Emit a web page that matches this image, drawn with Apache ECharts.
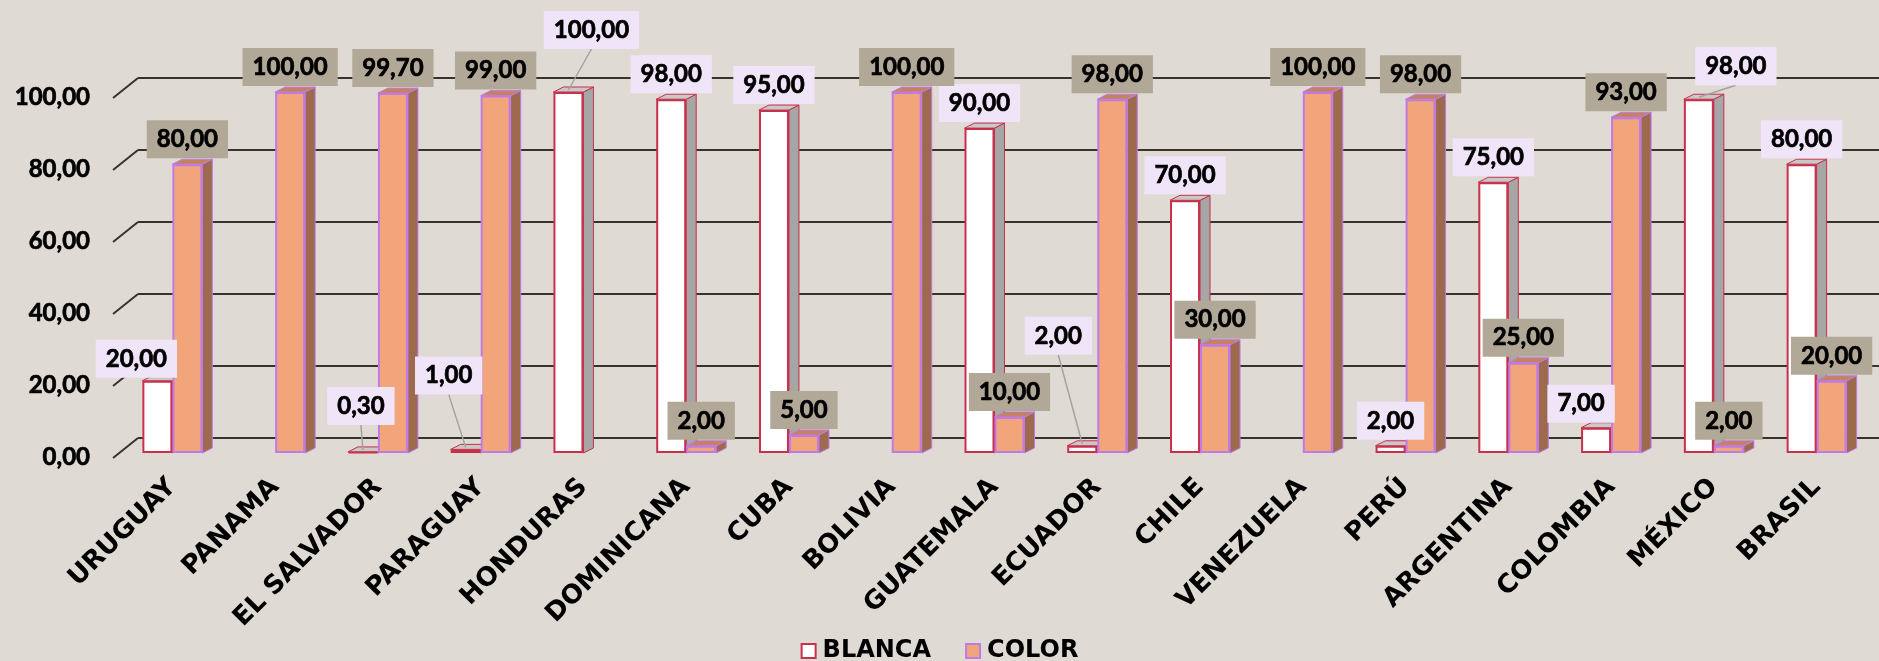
<!DOCTYPE html>
<html><head><meta charset="utf-8">
<script src="https://cdn.jsdelivr.net/npm/echarts@6/dist/echarts.min.js"></script>
<style>html,body{margin:0;padding:0;background:#dfdbd4}#c{width:1879px;height:661px}</style>
</head><body><div id="c"></div>
<script>
const categories = ['URUGUAY','PANAMA','EL SALVADOR','PARAGUAY','HONDURAS','DOMINICANA','CUBA','BOLIVIA','GUATEMALA','ECUADOR','CHILE','VENEZUELA','PERÚ','ARGENTINA','COLOMBIA','MÉXICO','BRASIL'];
const blanca = [20, null, 0.3, 1, 100, 98, 95, null, 90, 2, 70, null, 2, 75, 7, 98, 80];
const color  = [80, 100, 99.7, 99, null, 2, 5, 100, 10, 98, 30, 100, 98, 25, 93, 2, 20];
const yTicks = [0, 20, 40, 60, 80, 100];

// layout: nudges (px) for BLANCA labels moved off their default spot [dx, dy, leaderLine]
const blancaLabelNudge = {0:[-21,3,false], 2:[-2,-21,true], 3:[-17,-49,true], 4:[23,-37,true], 9:[-24,-85,true], 14:[-15,1,false], 15:[37,-8,true]};
const colorLabelNudge = {};

const BAR_W = 30, DX = 10, DY = -5;
const NUM_BASE = {fontFamily: 'Lato', fontWeight: 'bold', fontSize: 24};
const TXT_FONT = {fontFamily: 'DejaVu Sans', fontWeight: 'bold', fontSize: 26};
const fmt = v => Number(v).toFixed(2).replace('.', ',');
const toData = arr => arr.map((v, i) => v == null ? null : [i, v]).filter(Boolean);

function facesRenderer(side, sideCol, topCol, stroke) {
  return function (params, api) {
    const i = api.value(0), v = api.value(1);
    const top = api.coord([i, v]);
    const base = api.coord([i, 0]);
    const c = top[0];
    const x0 = side === 0 ? c - BAR_W : c;
    const x1 = x0 + BAR_W;
    const yt = top[1], yb = base[1];
    return {type: 'group', children: [
      {type: 'polygon', shape: {points: [[x1, yb], [x1 + DX, yb + DY], [x1 + DX, yt + DY], [x1, yt]]}, style: {fill: sideCol, stroke: stroke, lineWidth: 1}},
      {type: 'polygon', shape: {points: [[x0, yt], [x0 + DX, yt + DY], [x1 + DX, yt + DY], [x1, yt]]}, style: {fill: topCol, stroke: stroke, lineWidth: 1}}
    ]};
  };
}

function labelRenderer(side, bg, nudge) {
  return function (params, api) {
    const i = api.value(0), v = api.value(1);
    const top = api.coord([i, v]);
    const cx = top[0] + (side === 0 ? -BAR_W / 2 : BAR_W / 2);
    const n = nudge[i] || [0, 0, false];
    const lx = cx + n[0], ly = top[1] - 25 + n[1];
    const children = [];
    if (n[2]) children.push({type: 'line', shape: {x1: lx, y1: ly + 19, x2: cx, y2: top[1] - 2}, style: {stroke: '#a3a3a3', lineWidth: 1.5}});
    children.push({type: 'text', x: lx, y: ly, style: Object.assign({
      text: fmt(v), fill: '#000', stroke: '#000', lineWidth: 0.7, lineHeight: 26,
      align: 'center', verticalAlign: 'middle', backgroundColor: bg, padding: [6, 10, 6, 10]}, NUM_BASE)});
    return {type: 'group', children: children};
  };
}

const chart = echarts.init(document.getElementById('c'));
const option = {
  backgroundColor: '#dfdbd4',
  animation: false,
  grid: [
    {left: 121, right: 11, top: 92, bottom: 208},
    {left: 138, right: 0, top: 78, bottom: 223},
    {left: 121, right: 11, top: 97, bottom: 204}
  ],
  xAxis: [
    {type: 'category', data: categories, gridIndex: 0, axisLine: {show: false}, axisTick: {show: false},
     axisLabel: Object.assign({interval: 0, rotate: 45, margin: 30, color: '#000'}, TXT_FONT)},
    {type: 'value', gridIndex: 1, min: 0, max: 1, show: false},
    {type: 'value', gridIndex: 2, min: 0, max: 1, show: false}
  ],
  yAxis: [
    {type: 'value', gridIndex: 0, min: 0, max: 100, interval: 20, show: false},
    {type: 'value', gridIndex: 1, min: 0, max: 100, interval: 20, splitLine: {show: true, lineStyle: {color: '#36322e', width: 2}},
     axisLine: {show: false}, axisTick: {show: false}, axisLabel: {show: false}},
    {type: 'value', gridIndex: 2, min: 0, max: 100, interval: 20, splitLine: {show: false}, axisLine: {show: false}, axisTick: {show: false},
     axisLabel: Object.assign({formatter: v => fmt(v), margin: 31, color: '#000', textBorderColor: '#000', textBorderWidth: 0.7}, NUM_BASE)}
  ],
  legend: {
    data: ['BLANCA', 'COLOR'], top: 633, left: 'center', itemWidth: 14, itemHeight: 14, itemGap: 34, icon: 'rect',
    textStyle: Object.assign({color: '#000', lineHeight: 26, padding: [0, 0, 0, 2]}, TXT_FONT, {fontSize: 24})
  },
  series: [
    {type: 'custom', xAxisIndex: 1, yAxisIndex: 1, clip: false, z: 1, silent: true,
     data: yTicks.map(v => [0, v]), encode: {x: 0, y: 1},
     renderItem: function (params, api) {
       const p = api.coord([0, api.value(1)]);
       return {type: 'line', shape: {x1: p[0] - 25, y1: p[1] + 20, x2: p[0], y2: p[1]}, style: {stroke: '#36322e', lineWidth: 2}};
     }},
    {type: 'custom', name: 'blanca3d', z: 2, clip: false, silent: true, data: toData(blanca), encode: {x: 0, y: 1},
     renderItem: facesRenderer(0, '#a6a6a6', '#c8c8c8', '#c8304c')},
    {type: 'bar', name: 'BLANCA', data: blanca, z: 3, barWidth: BAR_W, barGap: '0%',
     itemStyle: {color: '#ffffff', borderColor: '#c8304c', borderWidth: 2}},
    {type: 'custom', name: 'color3d', z: 4, clip: false, silent: true, data: toData(color), encode: {x: 0, y: 1},
     renderItem: facesRenderer(1, '#9d6a4e', '#c4825e', '#c07ae8')},
    {type: 'bar', name: 'COLOR', data: color, z: 5, barWidth: BAR_W, barGap: '0%',
     itemStyle: {color: '#f2a47b', borderColor: '#c07ae8', borderWidth: 2}},
    {type: 'custom', name: 'blancaLbl', z: 10, clip: false, silent: true, data: toData(blanca), encode: {x: 0, y: 1},
     renderItem: labelRenderer(0, '#f0e4f8', blancaLabelNudge)},
    {type: 'custom', name: 'colorLbl', z: 10, clip: false, silent: true, data: toData(color), encode: {x: 0, y: 1},
     renderItem: labelRenderer(1, '#b1a898', colorLabelNudge)}
  ]
};
chart.setOption(option);
</script></body></html>
